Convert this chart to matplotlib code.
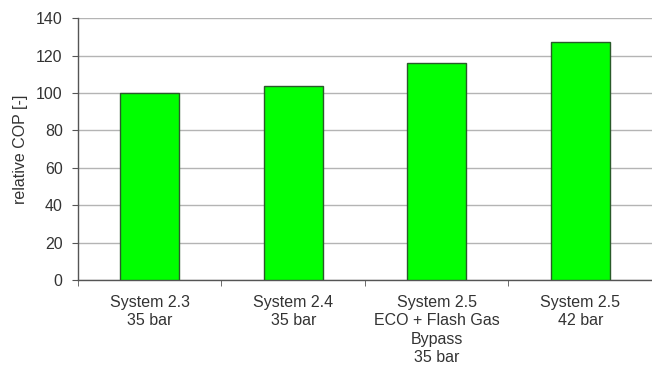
import matplotlib
matplotlib.use("Agg")
import matplotlib.pyplot as plt
import numpy as np

plt.rcParams['font.family'] = ['Liberation Sans', 'DejaVu Sans']

categories = ["System 2.3\n35 bar",
              "System 2.4\n35 bar",
              "System 2.5\nECO + Flash Gas\nBypass\n35 bar",
              "System 2.5\n42 bar"]
relative_cop = [100, 103.5, 116.3, 127.4]
y_ticks = [0, 20, 40, 60, 80, 100, 120, 140]

fig = plt.figure(figsize=(6.52, 3.65), dpi=100)
ax = fig.add_axes([0.1196, 0.233, 0.8804, 0.717])

x = np.arange(len(categories))
ax.bar(x, relative_cop, width=0.41, color="#00ff00", edgecolor="#2a5a2a",
       linewidth=1.0, zorder=3)

ax.set_xlim(-0.5, len(categories) - 0.5)
ax.set_ylim(0, 140)
ax.set_yticks(y_ticks)
ax.yaxis.grid(True, color="#b4b4b4", linewidth=1.0, zorder=0)
ax.set_axisbelow(True)

# category labels centred under bars, tick marks at category boundaries
ax.set_xticks(x)
ax.set_xticklabels(categories, fontsize=11.5, color="#333333", linespacing=1.27)
ax.tick_params(axis='x', length=0, pad=11)
ax.set_xticks(np.arange(len(categories) + 1) - 0.5, minor=True)
ax.tick_params(axis='x', which='minor', length=4, direction='out', color="#555555")
ax.tick_params(axis='y', length=4, direction='out', color="#555555",
               labelsize=11.5, labelcolor="#333333", pad=7)

for side in ("top", "right"):
    ax.spines[side].set_visible(False)
for side in ("left", "bottom"):
    ax.spines[side].set_color("#555555")
    ax.spines[side].set_linewidth(1.0)

ax.set_ylabel("relative COP [-]", fontsize=11.5, color="#333333", labelpad=6)

fig.savefig("out.png", dpi=100)
